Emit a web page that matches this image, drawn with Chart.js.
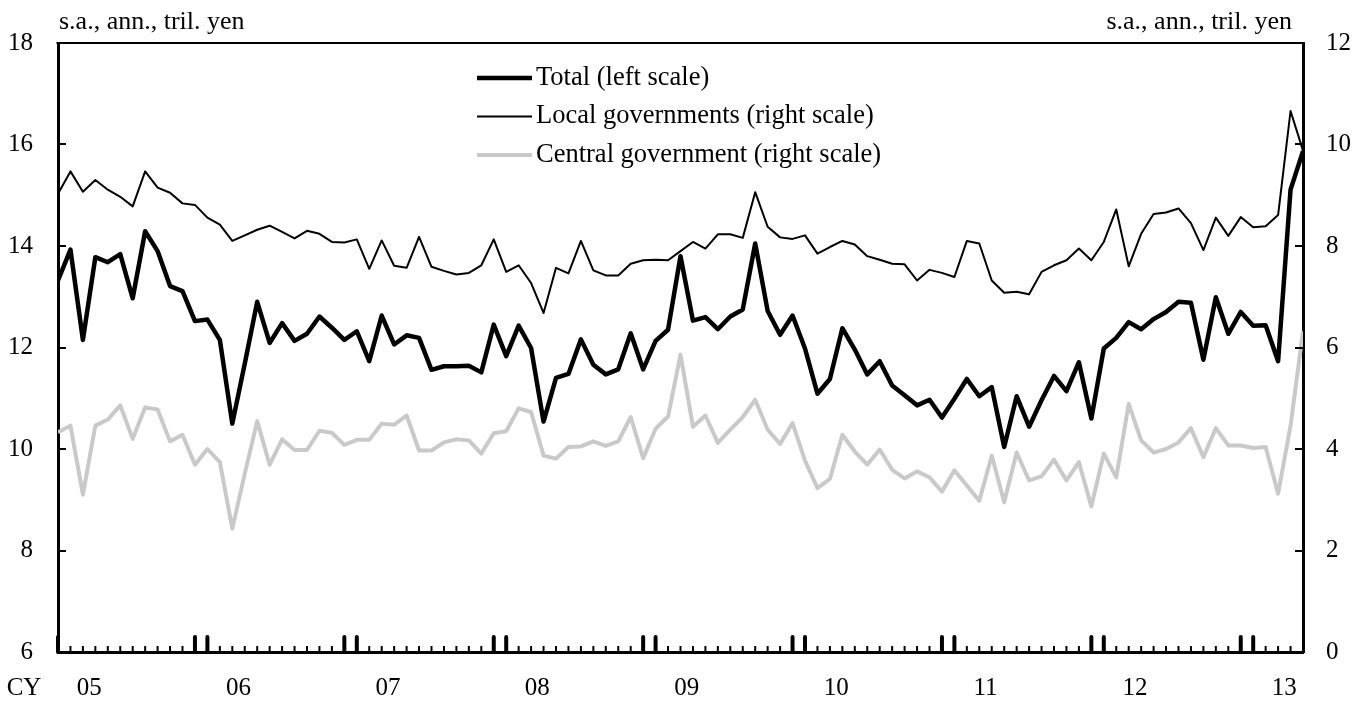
<!DOCTYPE html>
<html>
<head>
<meta charset="utf-8">
<script src="https://cdn.jsdelivr.net/npm/chart.js@4/dist/chart.umd.min.js"></script>
<style>
html,body{margin:0;padding:0;background:#fff;}
#wrap{width:1370px;height:704px;}
</style>
</head>
<body>
<div id="wrap"><canvas id="c" width="1370" height="704"></canvas></div>
<script>
// ---- data (monthly, Jan 2005 - May 2013) ----
const yearLabels = ['05','06','07','08','09','10','11','12','13'];
const axisPrefix = 'CY';
const unitText = 's.a., ann., tril. yen';
const seriesNames = ['Total (left scale)','Local governments (right scale)','Central government (right scale)'];

const total = [13.32,13.93,12.15,13.78,13.68,13.84,12.97,14.29,13.90,13.21,
  13.11,12.52,12.55,12.15,10.50,11.68,12.90,12.09,12.48,12.13,
  12.27,12.61,12.39,12.15,12.32,11.73,12.63,12.06,12.24,12.19,
  11.56,11.63,11.63,11.64,11.51,12.45,11.83,12.43,11.99,10.54,
  11.40,11.48,12.16,11.66,11.47,11.57,12.28,11.57,12.13,12.35,
  13.80,12.53,12.60,12.36,12.61,12.75,14.05,12.72,12.25,12.63,
  11.98,11.09,11.38,12.38,11.96,11.47,11.73,11.25,11.06,10.86,
  10.97,10.62,10.99,11.38,11.04,11.22,10.04,11.04,10.44,10.96,
  11.44,11.14,11.71,10.60,11.98,12.19,12.50,12.36,12.56,12.70,
  12.90,12.88,11.76,12.99,12.27,12.70,12.43,12.44,11.73,15.11,15.87];

const local = [9.03,9.47,9.07,9.30,9.11,8.97,8.78,9.47,9.15,9.05,
  8.84,8.81,8.56,8.42,8.10,8.21,8.32,8.40,8.28,8.15,
  8.30,8.24,8.08,8.07,8.13,7.55,8.11,7.61,7.57,8.18,
  7.59,7.51,7.44,7.47,7.62,8.13,7.49,7.62,7.27,6.68,
  7.57,7.46,8.10,7.52,7.42,7.42,7.65,7.72,7.73,7.72,
  7.90,8.08,7.95,8.23,8.23,8.16,9.06,8.38,8.17,8.14,
  8.21,7.85,7.98,8.10,8.03,7.80,7.73,7.65,7.64,7.32,
  7.53,7.47,7.39,8.10,8.05,7.32,7.08,7.10,7.05,7.49,
  7.62,7.72,7.95,7.72,8.08,8.72,7.60,8.24,8.63,8.66,
  8.74,8.45,7.92,8.56,8.20,8.57,8.37,8.39,8.61,10.66,9.88];

const central = [4.33,4.46,3.10,4.46,4.58,4.86,4.20,4.82,4.78,4.15,
  4.28,3.69,4.00,3.74,2.43,3.51,4.55,3.69,4.19,3.98,
  3.98,4.36,4.32,4.08,4.18,4.18,4.50,4.48,4.66,3.97,
  3.97,4.13,4.19,4.17,3.91,4.31,4.35,4.80,4.73,3.87,
  3.81,4.04,4.05,4.15,4.06,4.15,4.63,3.82,4.40,4.64,
  5.86,4.44,4.66,4.12,4.38,4.63,4.97,4.38,4.10,4.51,
  3.77,3.23,3.41,4.28,3.95,3.69,3.99,3.59,3.42,3.56,
  3.44,3.16,3.58,3.28,2.98,3.87,2.95,3.93,3.38,3.46,
  3.79,3.38,3.74,2.87,3.91,3.44,4.89,4.17,3.93,4.00,
  4.13,4.41,3.84,4.41,4.07,4.07,4.02,4.04,3.12,4.46,6.32];

// ---- build ----
const FONT_FAMILY = '"Liberation Serif","Times New Roman",serif';
const FS = 25;      // tick labels
const FS_TXT = 26;  // unit labels
const FS_LEG = 26.5; // legend
const toXY = arr => arr.map((v, i) => ({x: i, y: v}));
const nPoints = total.length;
const yearTickPos = yearLabels.map((_, k) => 12 * k + 2.5);

const decor = {
  id: 'decor',
  afterDraw(chart) {
    const {ctx, chartArea: a, scales} = chart;
    ctx.save();
    ctx.strokeStyle = '#000';
    ctx.lineCap = 'butt';
    // top frame line
    ctx.lineWidth = 2;
    ctx.beginPath(); ctx.moveTo(a.left - 1.5, a.top); ctx.lineTo(a.right + 1.5, a.top); ctx.stroke();
    // inward ticks, left axis
    ctx.lineWidth = 2;
    scales.y.ticks.forEach(t => {
      if (t.value <= scales.y.min || t.value >= scales.y.max) return;
      const py = Math.round(scales.y.getPixelForValue(t.value));
      ctx.beginPath(); ctx.moveTo(a.left, py); ctx.lineTo(a.left + 8, py); ctx.stroke();
    });
    scales.y2.ticks.forEach(t => {
      if (t.value <= scales.y2.min || t.value >= scales.y2.max) return;
      const py = Math.round(scales.y2.getPixelForValue(t.value));
      ctx.beginPath(); ctx.moveTo(a.right, py); ctx.lineTo(a.right - 8, py); ctx.stroke();
    });
    // month ticks on x axis (pointing up into plot)
    for (let i = 0; i < nPoints; i++) {
      const px = scales.x.getPixelForValue(i);
      const tall = (i % 12 === 0) || (i % 12 === 11);
      ctx.lineWidth = tall ? 4 : 2;
      ctx.lineCap = tall ? 'round' : 'butt';
      ctx.beginPath();
      ctx.moveTo(px, a.bottom);
      ctx.lineTo(px, a.bottom - (tall ? 15 : 6));
      ctx.stroke();
    }
    ctx.lineCap = 'butt';
    // unit labels
    ctx.fillStyle = '#000';
    ctx.font = FS_TXT + 'px ' + FONT_FAMILY;
    ctx.textBaseline = 'alphabetic';
    ctx.textAlign = 'left';
    ctx.fillText(unitText, a.left + 1, 29);
    ctx.textAlign = 'right';
    ctx.fillText(unitText, a.right - 11, 29);
    // CY prefix on x axis
    ctx.font = FS + 'px ' + FONT_FAMILY;
    ctx.textAlign = 'center';
    ctx.textBaseline = 'middle';
    ctx.fillText(axisPrefix, 24, scales.x.top + 21 + FS * 1.2 / 2);
    // legend
    ctx.font = FS_LEG + 'px ' + FONT_FAMILY;
    const lx0 = 477, lx1 = 532, ly0 = 78, lstep = 38.5;
    chart.data.datasets.forEach((ds, k) => {
      const yy = ly0 + k * lstep;
      ctx.strokeStyle = ds.borderColor;
      ctx.lineWidth = ds.borderWidth;
      ctx.beginPath(); ctx.moveTo(lx0, yy); ctx.lineTo(lx1, yy); ctx.stroke();
      ctx.fillStyle = '#000';
      ctx.textAlign = 'left';
      ctx.textBaseline = 'middle';
      ctx.fillText(ds.label, lx1 + 4, yy);
    });
    ctx.restore();
  }
};

new Chart(document.getElementById('c'), {
  type: 'line',
  data: {
    datasets: [
      {label: seriesNames[0], data: toXY(total), yAxisID: 'y', borderColor: '#000000', borderWidth: 4.5},
      {label: seriesNames[1], data: toXY(local), yAxisID: 'y2', borderColor: '#000000', borderWidth: 2},
      {label: seriesNames[2], data: toXY(central), yAxisID: 'y2', borderColor: '#c9c9c9', borderWidth: 4}
    ]
  },
  options: {
    responsive: false,
    animation: false,
    devicePixelRatio: 1,
    layout: {padding: {top: 43, left: 0, right: 0, bottom: 0}},
    elements: {
      point: {radius: 0, hoverRadius: 0},
      line: {tension: 0, borderJoinStyle: 'round', borderCapStyle: 'butt', fill: false}
    },
    plugins: {legend: {display: false}, tooltip: {enabled: false}, title: {display: false}},
    scales: {
      x: {
        type: 'linear', position: 'bottom', min: 0, max: nPoints - 1,
        afterBuildTicks: s => { s.ticks = yearTickPos.map(v => ({value: v})); },
        afterFit: s => { s.height = 52; },
        grid: {display: false, drawTicks: false},
        border: {display: true, color: '#000', width: 3},
        ticks: {
          autoSkip: false, maxRotation: 0, padding: 21, color: '#000',
          font: {family: FONT_FAMILY, size: FS},
          callback: (v, idx) => yearLabels[idx]
        }
      },
      y: {
        type: 'linear', position: 'left', min: 6, max: 18,
        afterFit: s => { s.width = 58; },
        grid: {display: false, drawTicks: false},
        border: {display: true, color: '#000', width: 3},
        ticks: {stepSize: 2, padding: 25, color: '#000', font: {family: FONT_FAMILY, size: FS}}
      },
      y2: {
        type: 'linear', position: 'right', min: 0, max: 12,
        afterFit: s => { s.width = 67; },
        grid: {display: false, drawTicks: false},
        border: {display: true, color: '#000', width: 3},
        ticks: {stepSize: 2, padding: 23, color: '#000', font: {family: FONT_FAMILY, size: FS}}
      }
    }
  },
  plugins: [decor]
});
</script>
</body>
</html>
